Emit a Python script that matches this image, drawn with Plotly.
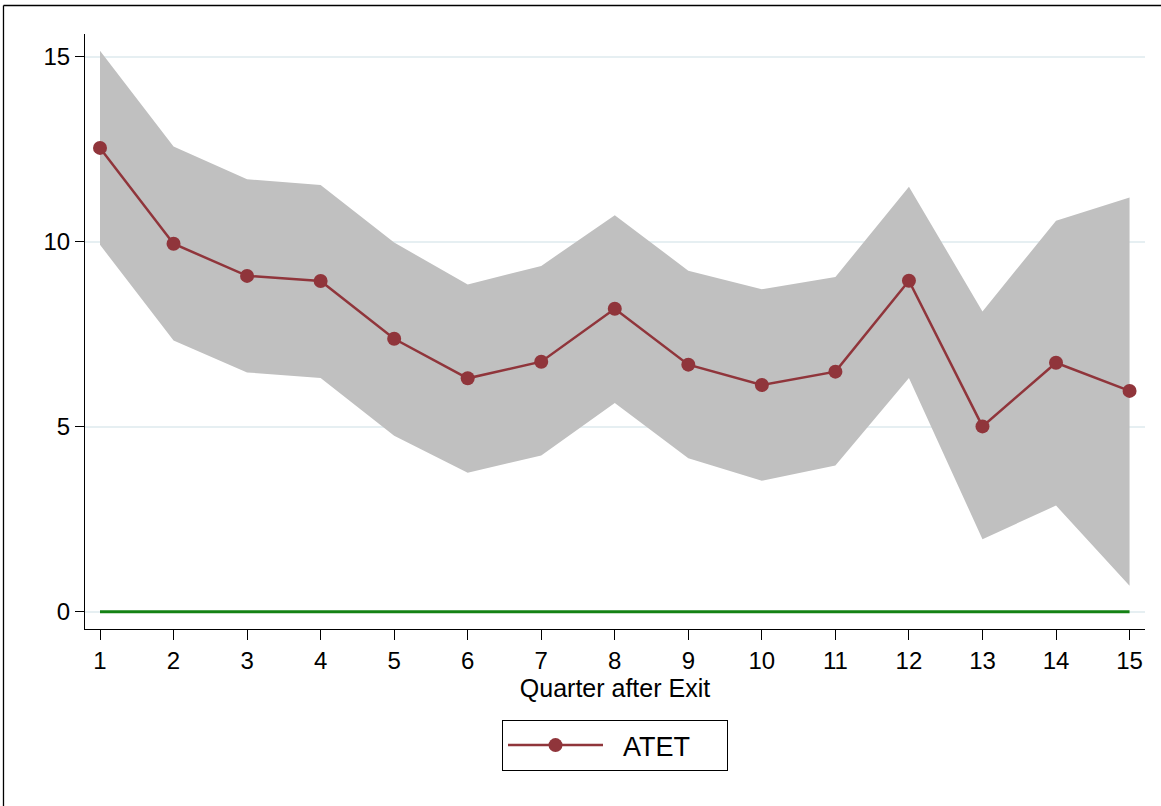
import plotly.graph_objects as go

# Quarters after exit and the estimated effect with its confidence band
quarters = list(range(1, 16))
atet = [12.54, 9.95, 9.08, 8.94, 7.38, 6.31, 6.76, 8.19, 6.68, 6.13, 6.49, 8.95, 5.01, 6.73, 5.97]
ci_upper = [15.17, 12.58, 11.69, 11.54, 9.98, 8.85, 9.35, 10.72, 9.22, 8.72, 9.05, 11.49, 8.12, 10.57, 11.20]
ci_lower = [9.92, 7.33, 6.47, 6.32, 4.76, 3.76, 4.22, 5.64, 4.15, 3.54, 3.95, 6.32, 1.96, 2.87, 0.70]
zero_line = [0] * len(quarters)

y_ticks = [0, 5, 10, 15]
x_title = "Quarter after Exit"
series_name = "ATET"

FONT = "Liberation Sans, Arial, sans-serif"
LINE_COLOR = "#90353b"

fig = go.Figure()

# confidence band
fig.add_trace(go.Scatter(
    x=quarters, y=ci_upper, mode="lines", line=dict(width=0, color="#c0c0c0"),
    showlegend=False, hoverinfo="skip",
))
fig.add_trace(go.Scatter(
    x=quarters, y=ci_lower, mode="lines", line=dict(width=0, color="#c0c0c0"),
    fill="tonexty", fillcolor="#c0c0c0", showlegend=False, hoverinfo="skip",
))

# reference line at zero
fig.add_trace(go.Scatter(
    x=quarters, y=zero_line, mode="lines", line=dict(width=3, color="#148214"),
    showlegend=False, hoverinfo="skip",
))

# point estimates
fig.add_trace(go.Scatter(
    x=quarters, y=atet, mode="lines+markers", name="\u00a0\u00a0" + series_name,
    line=dict(width=2.5, color=LINE_COLOR),
    marker=dict(size=14, color=LINE_COLOR),
))

# outer frame (top and left edges)
frame = dict(type="line", xref="paper", yref="paper", line=dict(color="black", width=1.3))
fig.add_shape(**frame, x0=-0.0769, x1=1.02, y0=1.0479, y1=1.0479)
fig.add_shape(**frame, x0=-0.0769, x1=-0.0769, y0=1.0479, y1=-0.31)

fig.update_layout(
    width=1161, height=806,
    margin=dict(l=85, r=16, t=34, b=177),
    paper_bgcolor="white", plot_bgcolor="white",
    font=dict(family=FONT, color="black"),
    showlegend=True,
    legend=dict(
        x=0.5, xanchor="center", y=-0.153, yanchor="top",
        orientation="h",
        bordercolor="black", borderwidth=1,
        font=dict(size=27, family=FONT),
        itemwidth=95,
        entrywidth=114,
    ),
    xaxis=dict(
        range=[0.796, 15.21], tickmode="array", tickvals=quarters,
        ticks="outside", ticklen=10, tickwidth=1, tickcolor="black",
        showline=True, linecolor="black", linewidth=1,
        showgrid=False, zeroline=False,
        tickfont=dict(size=24, family=FONT),
        title=dict(text=x_title, font=dict(size=25, family=FONT), standoff=2),
    ),
    yaxis=dict(
        range=[-0.468, 15.62], tickmode="array", tickvals=y_ticks,
        ticks="outside", ticklen=9, tickwidth=1, tickcolor="black",
        showline=True, linecolor="black", linewidth=1,
        showgrid=True, gridcolor="#e6eff2", gridwidth=2,
        zeroline=False,
        tickfont=dict(size=24, family=FONT),
    ),
)

fig.write_html("out.html")
